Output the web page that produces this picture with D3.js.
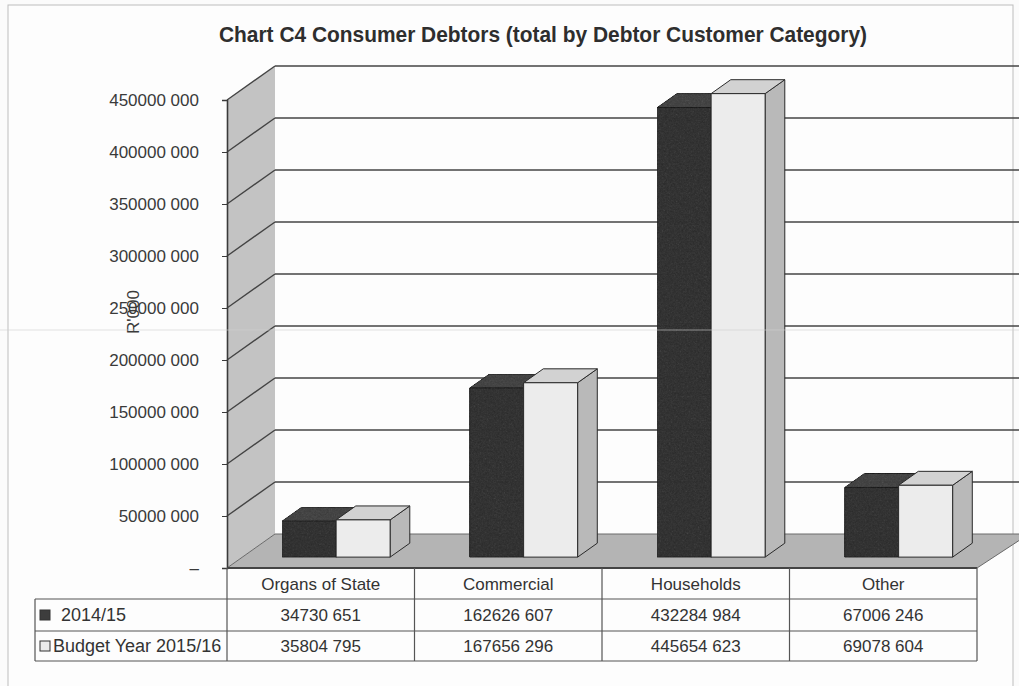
<!DOCTYPE html>
<html>
<head>
<meta charset="utf-8">
<script src="https://cdn.jsdelivr.net/npm/d3@7/dist/d3.min.js"></script>
<style>
  html, body { margin: 0; padding: 0; background: #fbfbfb; }
  svg { display: block; }
  text { font-family: "Liberation Sans", Arial, sans-serif; fill: #333; }
</style>
</head>
<body>
<svg id="chart" width="1019" height="686"></svg>
<script>
// ---- data ----
const title = "Chart C4 Consumer Debtors (total by Debtor Customer Category)";
const yAxisTitle = "R'000";
const categories = ["Organs of State", "Commercial", "Households", "Other"];
const series = ["2014/15", "Budget Year 2015/16"];
const values2014 = [34730651, 162626607, 432284984, 67006246];
const valuesBudget = [35804795, 167656296, 445654623, 69078604];
const yTicks = [0, 50000000, 100000000, 150000000, 200000000, 250000000, 300000000, 350000000, 400000000, 450000000];

const seriesValues = [values2014, valuesBudget];
const seriesFront = ["#3d3d3d", "#ececec"];
const seriesTop = ["#4e4e4e", "#d2d2d2"];
const seriesSide = ["#2e2e2e", "#b9b9b9"];

const fmt = v => { const s = String(v); return s.length > 3 ? s.slice(0, -3) + " " + s.slice(-3) : s; };
const tickFmt = v => v === 0 ? "–" : fmt(v);

// ---- layout ----
const W = 1019, H = 686;
const svg = d3.select("#chart");
const plotLeft = 227, plotRight = 977, yBase = 568, yTop = 100;
const DX = 48, DY = -34;           // depth of the 3D plot
const barF = 0.32, barD = 0.41;    // bar front position and depth as fraction of plot depth
const barW = 54;

const x = d3.scaleBand().domain(categories).range([plotLeft, plotRight]).padding(0);
const y = d3.scaleLinear().domain([0, 450000000]).range([yBase, yTop]);
const xs = d3.scaleBand().domain(series).range([-barW, barW]).padding(0);

// grain filter for the dark series (scanned look)
const defs = svg.append("defs");
const f = defs.append("filter").attr("id", "grain").attr("x", 0).attr("y", 0).attr("width", 1).attr("height", 1)
  .attr("color-interpolation-filters", "sRGB");
f.append("feTurbulence").attr("type", "fractalNoise").attr("baseFrequency", 0.55).attr("numOctaves", 2).attr("seed", 4).attr("result", "noise");
f.append("feColorMatrix").attr("in", "noise").attr("type", "saturate").attr("values", 0).attr("result", "gnoise");
f.append("feComposite").attr("in", "SourceGraphic").attr("in2", "gnoise").attr("operator", "arithmetic")
  .attr("k1", 0).attr("k2", 1).attr("k3", 0.2).attr("k4", -0.1).attr("result", "mix");
f.append("feComposite").attr("in", "mix").attr("in2", "SourceGraphic").attr("operator", "in");

// frame
svg.append("rect").attr("x", 8).attr("y", 5).attr("width", 1005).attr("height", 700)
  .attr("fill", "#fdfdfd").attr("stroke", "#bdbdbd").attr("stroke-width", 1);

// title
svg.append("text").attr("x", 543).attr("y", 42).attr("text-anchor", "middle")
  .attr("font-size", 22).attr("font-weight", "bold")
  .style("font-family", "'Liberation Sans Narrow', 'Arial Narrow', 'Liberation Sans', sans-serif")
  .attr("textLength", 648).attr("lengthAdjust", "spacingAndGlyphs")
  .style("fill", "#2e2e2e").text(title);

// left wall
const wall = [[plotLeft, yBase], [plotLeft, yTop], [plotLeft + DX, yTop + DY], [plotLeft + DX, yBase + DY]];
svg.append("polygon").attr("points", wall.map(p => p.join(",")).join(" "))
  .attr("fill", "#c3c3c3");

// floor
const floorRight = plotRight + DX + 4;
const floor = [[plotLeft, yBase], [plotLeft + DX, yBase + DY], [floorRight, yBase + DY], [plotRight, yBase]];
svg.append("polygon").attr("points", floor.map(p => p.join(",")).join(" "))
  .attr("fill", "#b4b4b4").attr("stroke", "#6a6a6a").attr("stroke-width", 1);

// gridlines (diagonal on wall + horizontal on back wall)
const grid = svg.append("g");
yTicks.filter(t => t > 0).forEach(t => {
  const yy = y(t);
  grid.append("line").attr("x1", plotLeft).attr("y1", yy).attr("x2", plotLeft + DX).attr("y2", yy + DY)
    .attr("stroke", "#444").attr("stroke-width", 1.4);
  grid.append("line").attr("x1", plotLeft + DX).attr("y1", yy + DY).attr("x2", W).attr("y2", yy + DY)
    .attr("stroke", "#444").attr("stroke-width", 1.7);
});

// axis
const axis = svg.append("g").attr("transform", `translate(${plotLeft},0)`)
  .call(d3.axisLeft(y).tickValues(yTicks).tickFormat(tickFmt).tickSize(5).tickPadding(23));
axis.select(".domain").attr("stroke", "#3a3a3a").attr("stroke-width", 1.6);
axis.selectAll(".tick line").attr("stroke", "#3a3a3a");
axis.selectAll(".tick text").attr("font-size", 17).style("fill", "#3a3a3a")
  .style("font-family", "'Liberation Sans', Arial, sans-serif");

// axis title
svg.append("text").attr("transform", "translate(139,312) rotate(-90)").attr("text-anchor", "middle")
  .attr("font-size", 17).style("fill", "#3a3a3a").text(yAxisTitle);

// bars
const fx = DX * barF, fy = DY * barF;   // front face offset
const bdx = DX * barD, bdy = DY * barD; // bar depth
const bars = svg.append("g");
categories.forEach((c, i) => {
  const cx = x(c) + x.bandwidth() / 2 + fx;
  series.forEach((s, j) => {
    const v = seriesValues[j][i];
    const x0 = cx + xs(s), x1 = x0 + xs.bandwidth();
    const yb = y(0) + fy, yt = y(v) + fy;
    const g = bars.append("g").attr("stroke", "#2a2a2a").attr("stroke-width", 1).attr("stroke-linejoin", "round");
    g.append("polygon").attr("points", [[x1, yb], [x1, yt], [x1 + bdx, yt + bdy], [x1 + bdx, yb + bdy]].map(p => p.join(",")).join(" "))
      .attr("fill", seriesSide[j]);
    g.append("polygon").attr("points", [[x0, yt], [x1, yt], [x1 + bdx, yt + bdy], [x0 + bdx, yt + bdy]].map(p => p.join(",")).join(" "))
      .attr("fill", seriesTop[j]).attr("filter", j === 0 ? "url(#grain)" : null);
    g.append("rect").attr("x", x0).attr("y", yt).attr("width", x1 - x0).attr("height", yb - yt)
      .attr("fill", seriesFront[j]).attr("filter", j === 0 ? "url(#grain)" : null);
  });
});

// data table
const rowTops = [yBase, 599, 631, 661];
const legendLeft = 35;
const tbl = svg.append("g").attr("stroke", "#555").attr("stroke-width", 1.2);
tbl.append("line").attr("x1", plotLeft).attr("x2", plotRight).attr("y1", yBase).attr("y2", yBase).attr("stroke", "#444").attr("stroke-width", 1.8);
[1, 2, 3].forEach(k => tbl.append("line").attr("x1", legendLeft).attr("x2", plotRight).attr("y1", rowTops[k]).attr("y2", rowTops[k]));
tbl.append("line").attr("x1", legendLeft).attr("x2", legendLeft).attr("y1", rowTops[1]).attr("y2", rowTops[3]);
categories.forEach(c => tbl.append("line").attr("x1", x(c)).attr("x2", x(c)).attr("y1", yBase).attr("y2", rowTops[3]));
tbl.append("line").attr("x1", plotRight).attr("x2", plotRight).attr("y1", yBase).attr("y2", rowTops[3]);

const tt = svg.append("g").attr("font-size", 17).style("fill", "#333");
categories.forEach((c, i) => {
  const cx = x(c) + x.bandwidth() / 2;
  tt.append("text").attr("x", cx).attr("y", (rowTops[0] + rowTops[1]) / 2 + 6).attr("text-anchor", "middle").text(c);
  series.forEach((s, j) => {
    tt.append("text").attr("x", cx).attr("y", (rowTops[j + 1] + rowTops[j + 2]) / 2 + 6).attr("text-anchor", "middle")
      .text(fmt(seriesValues[j][i]));
  });
});
series.forEach((s, j) => {
  const cy = (rowTops[j + 1] + rowTops[j + 2]) / 2;
  svg.append("rect").attr("x", 40).attr("y", cy - 5).attr("width", 10).attr("height", 10)
    .attr("fill", seriesFront[j]).attr("stroke", "#333").attr("stroke-width", 1);
  tt.append("text").attr("x", j === 0 ? 61 : 53).attr("y", cy + 6).attr("font-size", 18).text(s);
});

// faint scan line across
svg.append("line").attr("x1", 0).attr("x2", W).attr("y1", 330).attr("y2", 330)
  .attr("stroke", "#cfcfcf").attr("stroke-width", 1).attr("opacity", 0.6);
</script>
</body>
</html>
